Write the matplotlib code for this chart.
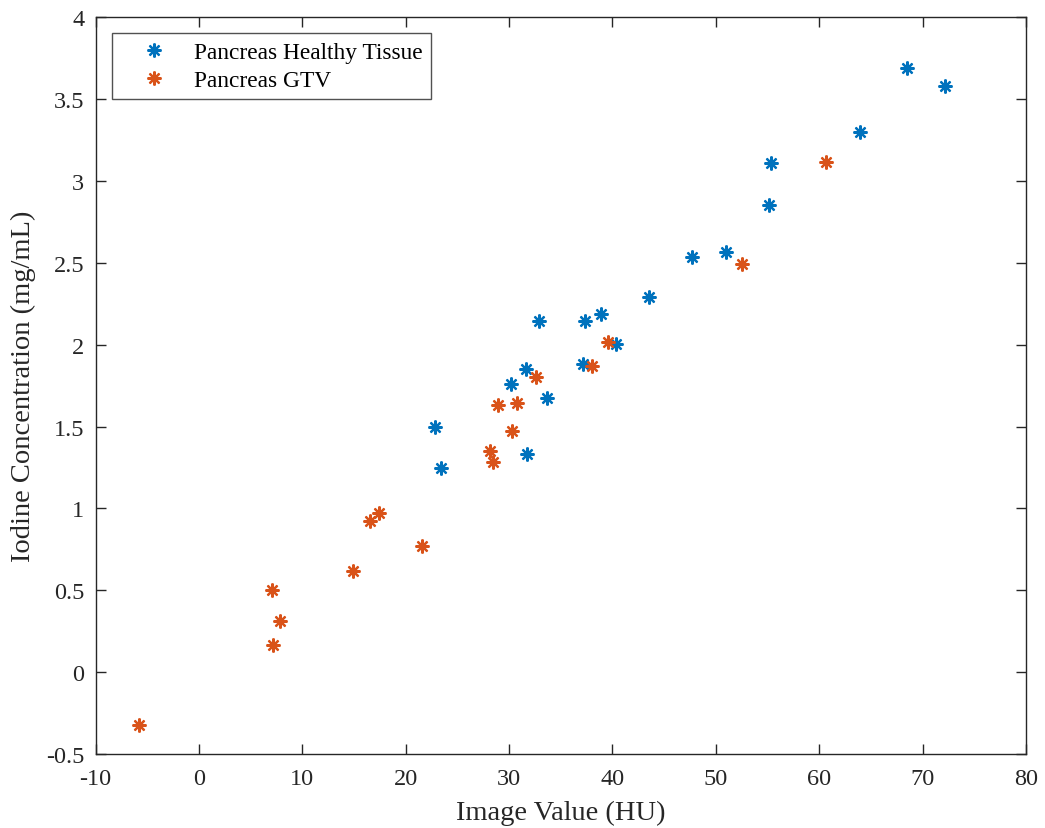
import matplotlib
matplotlib.use("Agg")
import matplotlib.pyplot as plt

# Measurements: image value (HU) vs. iodine concentration (mg/mL)
healthy_hu = [22.8, 23.4, 30.15, 31.6, 31.7, 32.9, 33.7, 37.2, 37.3, 38.9,
              40.3, 43.5, 47.66, 51.0, 55.1, 55.3, 63.9, 68.5, 72.2]
healthy_iodine = [1.499, 1.248, 1.757, 1.849, 1.332, 2.142, 1.674, 1.88, 2.142, 2.185,
                  2.004, 2.289, 2.535, 2.566, 2.855, 3.107, 3.30, 3.689, 3.58]

gtv_hu = [-5.8, 7.1, 7.85, 7.14, 14.87, 16.55, 17.4, 21.6, 28.15, 28.4,
          28.95, 30.3, 30.8, 32.6, 38.0, 39.6, 52.5, 60.7]
gtv_iodine = [-0.32, 0.50, 0.31, 0.165, 0.615, 0.92, 0.973, 0.77, 1.35, 1.281,
              1.631, 1.47, 1.645, 1.80, 1.869, 2.014, 2.49, 3.115]

x_ticks = [-10, 0, 10, 20, 30, 40, 50, 60, 70, 80]
y_ticks = [-0.5, 0, 0.5, 1, 1.5, 2, 2.5, 3, 3.5, 4]
y_tick_labels = ["-0.5", "0", "0.5", "1", "1.5", "2", "2.5", "3", "3.5", "4"]

plt.rcParams["font.family"] = ["Liberation Serif", "DejaVu Serif"]

fig = plt.figure(figsize=(10.45, 8.29), dpi=100)
ax = fig.add_axes([0.0914, 0.0893, 0.8904, 0.8887])

asterisk = (8, 2, 0)
ax.plot(healthy_hu, healthy_iodine, linestyle="none", marker=asterisk,
        markersize=10, markeredgewidth=1.6, color="#0072BD",
        label="Pancreas Healthy Tissue")
ax.plot(gtv_hu, gtv_iodine, linestyle="none", marker=asterisk,
        markersize=10, markeredgewidth=1.6, color="#D95319",
        label="Pancreas GTV")

ax.set_xlim(-10, 80)
ax.set_ylim(-0.5, 4)
ax.set_xticks(x_ticks)
ax.set_xticklabels([str(v) for v in x_ticks])
ax.set_yticks(y_ticks)
ax.set_yticklabels(y_tick_labels)

axis_grey = "#262626"
for side in ax.spines.values():
    side.set_color(axis_grey)
    side.set_linewidth(1.0)
ax.tick_params(direction="in", length=7, width=1.0, colors=axis_grey,
               labelcolor="#262626", labelsize=17.5, top=True, right=True)
ax.tick_params(axis="x", pad=10)
ax.tick_params(axis="y", pad=8)

ax.set_xlabel("Image Value (HU)", fontsize=20.5, color="#262626", labelpad=8)
ax.set_ylabel("Iodine Concentration (mg/mL)", fontsize=20.5, color="#262626", labelpad=7)

leg = ax.legend(loc="upper left", bbox_to_anchor=(0.018, 0.978), fontsize=16.8,
                frameon=True, fancybox=False, edgecolor=axis_grey,
                handlelength=2.85, handletextpad=0.3, borderpad=0.35,
                labelspacing=0.3, borderaxespad=0)
leg.get_frame().set_linewidth(1.0)

fig.savefig("out.png", dpi=100, facecolor="white")
